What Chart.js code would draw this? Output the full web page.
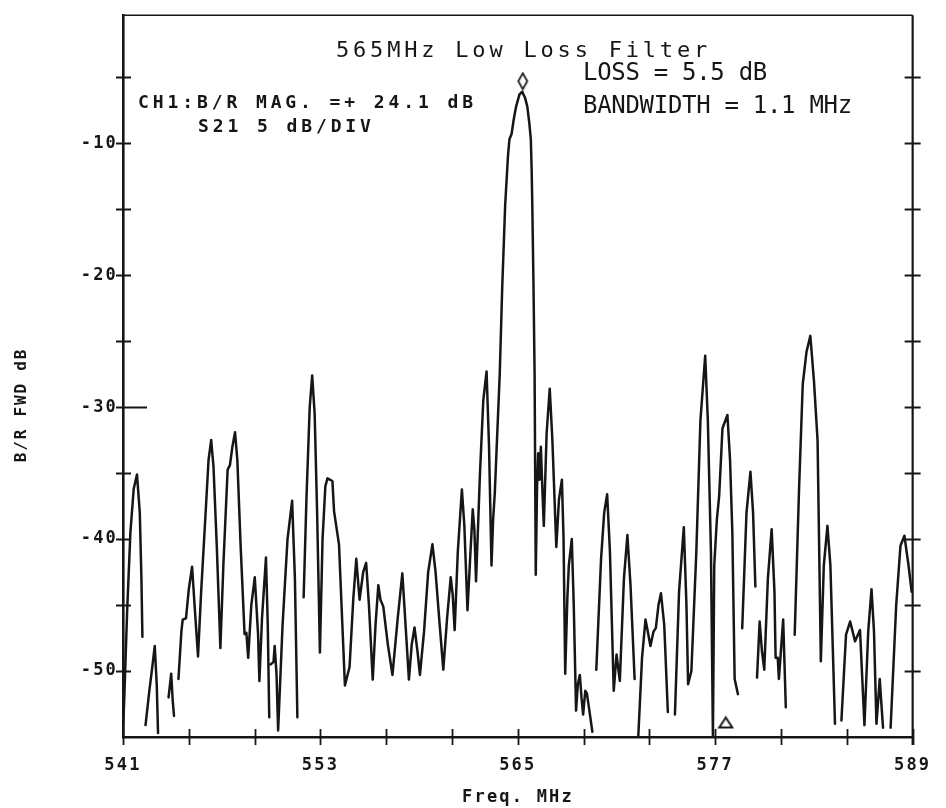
<!DOCTYPE html>
<html>
<head>
<meta charset="utf-8">
<title>565MHz Low Loss Filter</title>
<script src="https://cdn.jsdelivr.net/npm/chart.js@4.4.1/dist/chart.umd.min.js"></script>
<style>
  html, body { margin: 0; padding: 0; background: #ffffff; }
  #wrap { width: 946px; height: 808px; }
</style>
</head>
<body>
<div id="wrap"><canvas id="plot" width="946" height="808"></canvas></div>
<script>
// Axis ranges and tick values
const freqRange = [541, 589];          // MHz
const freqTicks = [541, 553, 565, 577, 589];
const freqMinorStep = 4;               // MHz between tick marks
const levelRange = [-55, -0.3];        // dB
const levelTicks = [-50, -40, -30, -20, -10];
const levelMinorStep = 5;              // dB per division

// S21 trace, [MHz, dB]; one array per continuous pen stroke
// (the pen lifts wherever the response drops off the bottom of the screen)
const traceA = [[541.00,-54.5],[541.08,-52.0],[541.25,-45.5],[541.45,-39.5],[541.65,-36.2],[541.85,-35.1],[542.02,-38.0],[542.12,-43.0],[542.18,-47.4]];
const traceB = [[542.37,-54.1],[542.6,-51.5],[542.8,-49.5],[542.93,-48.1],[543.05,-51.0],[543.13,-54.7]];
const traceC = [[543.77,-52.0],[543.93,-50.2],[544.02,-52.2],[544.1,-53.4]];
const traceD = [[544.37,-50.6],[544.55,-47.0],[544.63,-46.1],[544.83,-46.0],[545.0,-43.8],[545.2,-42.1],[545.35,-45.0],[545.56,-48.9],
  [545.75,-44.0],[546.0,-38.5],[546.2,-34.0],[546.36,-32.5],[546.5,-34.5],[546.7,-40.5],[546.92,-48.25],[547.1,-42.0],[547.36,-34.75],
  [547.5,-34.4],[547.65,-33.0],[547.81,-31.9],[547.95,-34.0],[548.15,-40.5],[548.39,-47.2],[548.5,-47.1],[548.61,-49.0],[548.8,-45.0],
  [549.01,-42.9],[549.21,-47.2],[549.29,-50.75],[549.45,-46.0],[549.69,-41.4],[549.8,-46.5],[549.89,-53.5]];
const traceE = [[549.98,-49.5],[550.15,-49.3],[550.22,-48.1],[550.33,-50.2],[550.43,-54.5],[550.7,-46.5],[551.0,-40.0],[551.28,-37.1],
  [551.45,-43.0],[551.6,-53.5]];
const traceF = [[551.98,-44.4],[552.15,-37.0],[552.35,-30.0],[552.5,-27.6],[552.65,-30.5],[552.8,-38.0],[552.97,-48.6],[553.13,-40.0],
  [553.3,-36.0],[553.43,-35.4],[553.73,-35.6],[553.83,-37.9],[554.13,-40.4],[554.3,-45.5],[554.49,-51.1],[554.77,-49.7],[555.0,-44.5],
  [555.18,-41.5],[555.38,-44.6],[555.6,-42.5],[555.78,-41.8],[555.95,-45.0],[556.18,-50.65],[556.35,-46.5],[556.52,-43.5],[556.65,-44.6],
  [556.82,-45.1],[557.1,-48.0],[557.38,-50.3],[557.7,-46.0],[557.98,-42.6],[558.15,-46.0],[558.38,-50.65],[558.55,-48.0],[558.72,-46.7],
  [558.9,-48.5],[559.05,-50.3],[559.3,-47.0],[559.55,-42.5],[559.81,-40.4],[560.0,-42.5],[560.25,-46.5],[560.47,-49.9],[560.7,-46.0],
  [560.92,-42.9],[561.04,-44.2],[561.16,-46.9],[561.35,-41.0],[561.6,-36.25],[561.75,-39.0],[561.94,-45.4],[562.1,-41.5],[562.26,-37.75],
  [562.36,-39.3],[562.46,-43.2],[562.7,-35.0],[562.9,-29.5],[563.1,-27.3],[563.25,-33.0],[563.4,-42.0],[563.5,-38.5],[563.6,-36.5],
  [563.75,-32.0],[563.9,-27.5],[564.05,-21.0],[564.23,-14.7],[564.4,-11.0],[564.49,-9.7],[564.62,-9.3],[564.75,-8.2],[564.89,-7.25],
  [565.1,-6.3],[565.27,-6.1],[565.45,-6.6],[565.58,-7.25],[565.7,-8.5],[565.79,-9.7],[565.84,-12.0],[565.88,-14.7],[565.95,-20.5],
  [566.02,-27.5],[566.09,-42.7],[566.17,-36.0],[566.24,-33.5],[566.32,-35.5],[566.4,-33.0],[566.5,-36.5],[566.58,-39.0],[566.75,-32.0],
  [566.94,-28.6],[567.1,-32.5],[567.34,-40.6],[567.5,-37.0],[567.68,-35.5],[567.78,-40.0],[567.88,-50.2],[568.01,-44.5],[568.1,-42.0],
  [568.28,-40.0],[568.4,-45.0],[568.54,-53.0],[568.65,-51.0],[568.77,-50.3],[568.87,-52.0],[568.97,-53.3],[569.1,-51.5],[569.2,-51.7],
  [569.35,-53.0],[569.53,-54.6]];
const traceG = [[569.77,-49.9],[570.06,-41.5],[570.25,-38.0],[570.43,-36.6],[570.6,-41.0],[570.83,-51.5],[571.0,-48.75],[571.2,-50.75],
  [571.45,-43.0],[571.66,-39.7],[571.85,-43.5],[572.1,-50.6]];
const traceH = [[572.32,-55.0],[572.55,-49.0],[572.76,-46.1],[572.9,-47.0],[573.06,-48.1],[573.25,-47.0],[573.39,-46.75],[573.55,-45.0],
  [573.7,-44.1],[573.9,-46.5],[574.12,-53.1]];
const traceI = [[574.55,-53.3],[574.8,-44.0],[575.09,-39.1],[575.25,-45.0],[575.35,-51.0],[575.55,-50.0],[575.85,-41.0],[576.1,-31.0],
  [576.39,-26.1],[576.55,-31.0],[576.74,-41.0],[576.86,-55.0],[576.94,-42.0],[577.1,-38.5],[577.24,-36.7],[577.44,-31.6],[577.74,-30.6],
  [577.9,-34.0],[578.04,-39.5],[578.18,-50.6],[578.38,-51.75]];
const traceJ = [[578.64,-46.75],[578.9,-38.0],[579.14,-34.9],[579.3,-38.0],[579.44,-43.6]];
const traceK = [[579.54,-50.5],[579.7,-46.25],[579.84,-48.5],[579.98,-49.9],[580.2,-43.0],[580.43,-39.25],[580.6,-44.0],[580.67,-49.0],
  [580.8,-49.0],[580.87,-50.6],[581.13,-46.1],[581.29,-52.75]];
const traceL = [[581.83,-47.25],[582.1,-36.0],[582.32,-28.25],[582.55,-25.8],[582.78,-24.6],[583.0,-28.0],[583.22,-32.5],[583.42,-49.25],
  [583.6,-42.0],[583.82,-39.0],[584.0,-42.0],[584.28,-54.0]];
const traceM = [[584.67,-53.75],[584.95,-47.25],[585.2,-46.25],[585.5,-47.75],[585.8,-46.9],[586.07,-54.1],[586.3,-47.0],[586.5,-43.8],
  [586.65,-47.0],[586.8,-54.0],[587.0,-50.6],[587.1,-52.5],[587.2,-54.3]];
const traceN = [[587.66,-54.3],[588.0,-45.0],[588.26,-40.5],[588.5,-39.75],[588.75,-42.0],[588.94,-44.0]];
const traceStrokes = [traceA, traceB, traceC, traceD, traceE, traceF, traceG, traceH, traceI, traceJ, traceK, traceL, traceM, traceN];

// Markers: main marker (diamond) and delta reference (triangle), [MHz, dB]
const mainMarker = [565.3, -5.3];
const deltaMarker = [577.64, -53.9];

const INK = '#161616';

// Join the strokes into one dataset, breaking the line between strokes
const traceData = [];
traceStrokes.forEach((stroke, i) => {
  if (i > 0) traceData.push({ x: stroke[0][0], y: null });
  stroke.forEach(([f, v]) => traceData.push({ x: f, y: v }));
});

function markerSprite(w, h, drawPath, lw) {
  const c = document.createElement('canvas');
  c.width = w; c.height = h;
  const g = c.getContext('2d');
  g.lineWidth = lw;
  g.strokeStyle = INK;
  g.fillStyle = '#ffffff';
  g.lineJoin = 'miter';
  g.beginPath();
  drawPath(g);
  g.closePath();
  g.fill();
  g.stroke();
  return c;
}
const diamondSprite = markerSprite(13, 19, g => {
  g.moveTo(6.5, 1.5); g.lineTo(11, 9.5); g.lineTo(6.5, 17.5); g.lineTo(2, 9.5);
}, 1.7);
const triangleSprite = markerSprite(17, 14, g => {
  g.moveTo(8.5, 2); g.lineTo(15, 12); g.lineTo(2, 12);
}, 2.0);

const plotterFont = '"DejaVu Sans Mono", "Liberation Mono", monospace';

// Frame, cross-shaped tick marks and the printed annotations
const plotterDecor = {
  id: 'plotterDecor',
  beforeDraw(chart) {
    chart.ctx.letterSpacing = '2.2px';
  },
  afterDatasetsDraw(chart) {
    const { ctx, chartArea: a, scales: { x, y } } = chart;
    ctx.save();
    ctx.letterSpacing = '0px';
    ctx.strokeStyle = INK;
    ctx.lineCap = 'butt';

    // top and right edges of the graticule frame
    ctx.lineWidth = 1.6;
    ctx.beginPath();
    ctx.moveTo(a.left, a.top); ctx.lineTo(a.right, a.top);
    ctx.stroke();
    ctx.lineWidth = 2.2;
    ctx.beginPath();
    ctx.moveTo(a.right, a.top); ctx.lineTo(a.right, a.bottom + 8);
    ctx.stroke();

    // level ticks on both vertical edges
    ctx.lineWidth = 1.8;
    for (let v = levelRange[0] + levelMinorStep; v < levelRange[1]; v += levelMinorStep) {
      const py = Math.round(y.getPixelForValue(v)) + 0.5;
      const reach = v === -30 ? 24 : 8;
      ctx.beginPath();
      ctx.moveTo(a.left - 7, py); ctx.lineTo(a.left + reach, py);
      ctx.moveTo(a.right - 8, py); ctx.lineTo(a.right + 8, py);
      ctx.stroke();
    }
    // frequency ticks across the bottom edge
    for (let f = freqRange[0]; f <= freqRange[1]; f += freqMinorStep) {
      const px = Math.round(x.getPixelForValue(f)) + 0.5;
      ctx.beginPath();
      ctx.moveTo(px, a.bottom - 8); ctx.lineTo(px, a.bottom + 8);
      ctx.stroke();
    }

    ctx.fillStyle = INK;
    ctx.textBaseline = 'alphabetic';

    // plot title
    ctx.font = '22px ' + plotterFont;
    ctx.letterSpacing = '3.8px';
    ctx.textAlign = 'left';
    ctx.fillText('565MHz Low Loss Filter', 336, 57);

    // analyzer status lines
    ctx.font = 'bold 18px ' + plotterFont;
    ctx.letterSpacing = '3.9px';
    ctx.fillText('CH1:B/R MAG. =+ 24.1 dB', 138, 108);
    ctx.fillText('S21 5 dB/DIV', 198, 132);

    // measured results
    ctx.font = '24px ' + plotterFont;
    ctx.letterSpacing = '-0.3px';
    ctx.fillText('LOSS = 5.5 dB', 583, 80);
    ctx.fillText('BANDWIDTH = 1.1 MHz', 583, 113);

    // axis titles
    ctx.font = 'bold 17px ' + plotterFont;
    ctx.letterSpacing = '2.2px';
    ctx.textAlign = 'center';
    ctx.fillText('Freq. MHz', 518, 802);
    ctx.save();
    ctx.translate(26, 405);
    ctx.rotate(-Math.PI / 2);
    ctx.font = 'bold 16px ' + plotterFont;
    ctx.letterSpacing = '1.8px';
    ctx.fillText('B/R FWD dB', 0, 0);
    ctx.restore();

    ctx.restore();
  }
};

new Chart(document.getElementById('plot'), {
  type: 'line',
  data: {
    datasets: [
      {
        label: 'S21',
        data: traceData,
        borderColor: INK,
        borderWidth: 2.5,
        pointRadius: 0,
        tension: 0,
        spanGaps: false,
        borderJoinStyle: 'round',
        borderCapStyle: 'round'
      },
      {
        label: 'Marker',
        data: [{ x: mainMarker[0], y: mainMarker[1] }],
        showLine: false,
        pointStyle: diamondSprite,
        pointRadius: 8
      },
      {
        label: 'Delta',
        data: [{ x: deltaMarker[0], y: deltaMarker[1] }],
        showLine: false,
        pointStyle: triangleSprite,
        pointRadius: 8
      }
    ]
  },
  options: {
    responsive: false,
    animation: false,
    devicePixelRatio: 1,
    layout: { padding: { top: 8, right: 21, left: 0, bottom: 0 } },
    plugins: { legend: { display: false }, tooltip: { enabled: false }, title: { display: false } },
    scales: {
      x: {
        type: 'linear',
        min: freqRange[0],
        max: freqRange[1],
        afterBuildTicks: s => { s.ticks = freqTicks.map(v => ({ value: v })); },
        afterFit: s => { s.height = 71; },
        grid: { display: false, drawTicks: false },
        border: { display: true, color: INK, width: 2.6 },
        ticks: {
          color: INK,
          padding: 18,
          maxRotation: 0,
          autoSkip: false,
          font: { family: plotterFont, size: 17, weight: 'bold' },
          callback: v => String(v)
        }
      },
      y: {
        type: 'linear',
        min: levelRange[0],
        max: levelRange[1],
        afterBuildTicks: s => { s.ticks = levelTicks.map(v => ({ value: v })); },
        afterFit: s => { s.width = 123; },
        grid: { display: false, drawTicks: false },
        border: { display: true, color: INK, width: 2.6 },
        ticks: {
          color: INK,
          padding: 5,
          autoSkip: false,
          font: { family: plotterFont, size: 17, weight: 'bold' },
          callback: v => String(v)
        }
      }
    }
  },
  plugins: [plotterDecor]
});
</script>
</body>
</html>
